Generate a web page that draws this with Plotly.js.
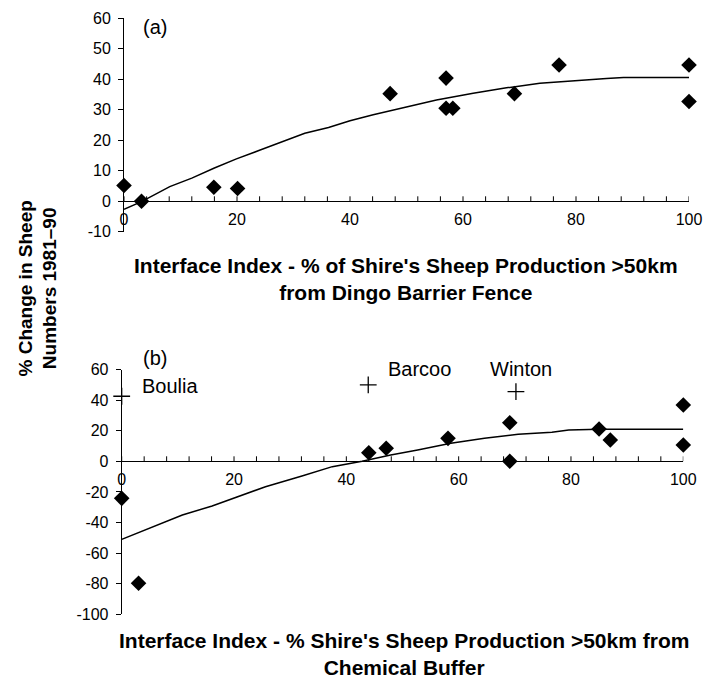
<!DOCTYPE html>
<html>
<head>
<meta charset="utf-8">
<script src="https://cdn.plot.ly/plotly-3.0.1.min.js"></script>
<style>html,body{margin:0;padding:0;background:#fff;}#chart{width:703px;height:678px;}</style>
</head>
<body>
<div id="chart"></div>
<script>
// ---- Panel (a) data ----
var aPointsX = [0, 3.1, 15.9, 20.1, 47.1, 57.0, 57.0, 58.2, 69.1, 77.0, 100, 100];
var aPointsY = [5.2, 0, 4.6, 4.2, 35.3, 40.4, 30.5, 30.5, 35.3, 44.7, 44.7, 32.7];
var aCurveX = [0, 3.1, 8.1, 12, 16, 19.9, 24.1, 28, 32, 36.2, 40, 44.1, 50, 55.3, 61.8, 67.7, 73.6, 79.5, 85.4, 88.4, 100];
var aCurveY = [-2.6, -0.1, 4.8, 7.6, 10.9, 13.9, 16.8, 19.4, 22.3, 24.2, 26.4, 28.4, 30.8, 33.2, 35.4, 37.2, 38.7, 39.6, 40.3, 40.6, 40.6];
var aYTicks = [-10, 0, 10, 20, 30, 40, 50, 60];
var aYTickText = ["-10", "0", "10", "20", "30", "40", "50", "60"];

// ---- Panel (b) data ----
var bPointsX = [0, 3.0, 44.0, 47.1, 58.1, 69.1, 69.1, 85.0, 87.0, 100, 100];
var bPointsY = [-24.2, -79.7, 5.6, 8.5, 15.0, 25.2, 0, 21.1, 13.9, 10.7, 36.8];
var bNamedX = [0, 43.9, 70.2];
var bNamedY = [42.5, 49.9, 45.5];
var bNames = ["Boulia", "Barcoo", "Winton"];
var bCurveX = [0, 2.4, 6.0, 10.8, 16.1, 20.3, 25.6, 32.1, 37.5, 42.8, 47.9, 52.7, 58.6, 64.6, 70.6, 76.6, 79.6, 85, 100];
var bCurveY = [-51, -47.5, -42.3, -35.1, -29.2, -23.5, -16.6, -9.6, -3.5, 0, 4.1, 7.4, 11.8, 15.0, 17.6, 19.0, 20.5, 20.9, 20.9];
var bYTicks = [-100, -80, -60, -40, -20, 0, 20, 40, 60];
var bYTickText = ["-100", "-80", "-60", "-40", "-20", "0", "20", "40", "60"];

// ---- shared x axis ticks (every 4, labelled every 20) ----
var xRange = [0, 100];
var xTickVals = [0, 4, 8, 12, 16, 20, 24, 28, 32, 36, 40, 44, 48, 52, 56, 60, 64, 68, 72, 76, 80, 84, 88, 92, 96, 100];
var xTickText = ["0", "", "", "", "", "20", "", "", "", "", "40", "", "", "", "", "60", "", "", "", "", "80", "", "", "", "", "100"];

var W = 703, H = 678;
function px(x) { return x / W; }
function py(y) { return 1 - y / H; }

var FONT = "Liberation Sans, Arial, sans-serif";
var tickFont = {family: FONT, size: 16, color: "#000"};

var traces = [
  {x: aCurveX, y: aCurveY, mode: "lines", xaxis: "x", yaxis: "y",
   line: {color: "#000", width: 1.5}, hoverinfo: "skip"},
  {x: aPointsX, y: aPointsY, mode: "markers", xaxis: "x", yaxis: "y",
   marker: {symbol: "diamond", size: 12, color: "#000"}, cliponaxis: false},
  {x: bCurveX, y: bCurveY, mode: "lines", xaxis: "x2", yaxis: "y2",
   line: {color: "#000", width: 1.5}, hoverinfo: "skip"},
  {x: bPointsX, y: bPointsY, mode: "markers", xaxis: "x2", yaxis: "y2",
   marker: {symbol: "diamond", size: 12, color: "#000"}, cliponaxis: false},
  {x: bNamedX, y: bNamedY, text: bNames, mode: "markers", xaxis: "x2", yaxis: "y2",
   marker: {symbol: "cross-thin", size: 12, color: "#000", line: {color: "#000", width: 1.3}}, cliponaxis: false},
  // empty traces that only create the subplots carrying the visible x axes (crossing at y = 0)
  {x: xRange, y: [0, 0], mode: "none", xaxis: "x3", yaxis: "y3", hoverinfo: "skip"},
  {x: xRange, y: [0, 0], mode: "none", xaxis: "x4", yaxis: "y4", hoverinfo: "skip"}
];

function dataX(domain, anchorY) {
  return {domain: domain, range: xRange, anchor: anchorY, visible: false, fixedrange: true};
}
function shownX(domain, anchorY) {
  return {
    domain: domain, range: xRange, anchor: anchorY, side: "bottom",
    showline: true, linecolor: "#000", linewidth: 1,
    showgrid: false, zeroline: false,
    tickmode: "array", tickvals: xTickVals, ticktext: xTickText,
    ticks: "", ticklabelstandoff: 3,
    tickfont: tickFont, fixedrange: true
  };
}
function dataY(domain, range, tv, tt, anchorX) {
  return {
    domain: domain, range: range, anchor: anchorX,
    showline: true, linecolor: "#000", linewidth: 1,
    showgrid: false, zeroline: false,
    tickmode: "array", tickvals: tv, ticktext: tt,
    ticks: "outside", ticklen: 5, tickcolor: "#000", tickwidth: 1,
    ticklabelstandoff: 4,
    tickfont: tickFont, fixedrange: true
  };
}
function helperY(domain, anchorX) {
  return {domain: domain, anchor: anchorX, range: [0, 1], showline: false, showticklabels: false,
          ticks: "", showgrid: false, zeroline: false, fixedrange: true};
}

// upward tick marks on the x axes (which cross at y = 0), 5 px long
var shapes = [];
[["x", "y"], ["x2", "y2"]].forEach(function (ref) {
  xTickVals.forEach(function (v) {
    shapes.push({type: "line", xref: ref[0], yref: ref[1], x0: v, x1: v,
                 ysizemode: "pixel", yanchor: 0, y0: 0, y1: 5,
                 line: {color: "#000", width: 1}, layer: "above"});
  });
});

var layout = {
  width: W, height: H,
  margin: {l: 0, r: 0, t: 0, b: 0},
  paper_bgcolor: "#fff", plot_bgcolor: "rgba(0,0,0,0)",
  showlegend: false,
  xaxis: dataX([px(124), px(689)], "y"),
  yaxis: dataY([py(231.8), py(18.3)], [-10, 60], aYTicks, aYTickText, "x"),
  xaxis3: shownX([px(124), px(689)], "y3"),
  yaxis3: helperY([py(201.3), py(18.3)], "x3"),
  xaxis2: dataX([px(121.7), px(683.3)], "y2"),
  yaxis2: dataY([py(614.3), py(369.5)], [-100, 60], bYTicks, bYTickText, "x2"),
  xaxis4: shownX([px(121.7), px(683.3)], "y4"),
  yaxis4: helperY([py(461.3), py(369.5)], "x4"),
  shapes: shapes,
  annotations: [
    {text: "(a)", x: px(155), y: py(27), xref: "paper", yref: "paper", xanchor: "center", yanchor: "middle", showarrow: false, font: {family: FONT, size: 20, color: "#000"}},
    {text: "(b)", x: px(155), y: py(358), xref: "paper", yref: "paper", xanchor: "center", yanchor: "middle", showarrow: false, font: {family: FONT, size: 20, color: "#000"}},
    {text: bNames[0], x: px(170), y: py(386), xref: "paper", yref: "paper", xanchor: "center", yanchor: "middle", showarrow: false, font: {family: FONT, size: 20, color: "#000"}},
    {text: bNames[1], x: px(419.5), y: py(369), xref: "paper", yref: "paper", xanchor: "center", yanchor: "middle", showarrow: false, font: {family: FONT, size: 20, color: "#000"}},
    {text: bNames[2], x: px(520.5), y: py(369), xref: "paper", yref: "paper", xanchor: "center", yanchor: "middle", showarrow: false, font: {family: FONT, size: 20, color: "#000"}},
    {text: "<b>Interface Index - % of Shire's Sheep Production >50km<br>from Dingo Barrier Fence</b>", x: px(406), y: py(278.5), xref: "paper", yref: "paper", xanchor: "center", yanchor: "middle", align: "center", showarrow: false, font: {family: FONT, size: 21, color: "#000"}},
    {text: "<b>Interface Index - % Shire's Sheep Production >50km from<br>Chemical Buffer</b>", x: px(404), y: py(653.5), xref: "paper", yref: "paper", xanchor: "center", yanchor: "middle", align: "center", showarrow: false, borderpad: 0, font: {family: FONT, size: 21, color: "#000"}},
    {text: "<b>% Change in Sheep<br>Numbers 1981–90</b>", x: px(37.5), y: py(289), xref: "paper", yref: "paper", xanchor: "center", yanchor: "middle", align: "center", textangle: -90, showarrow: false, font: {family: FONT, size: 19, color: "#000"}}
  ]
};

Plotly.newPlot("chart", traces, layout, {displayModeBar: false, staticPlot: true});
</script>
</body>
</html>
